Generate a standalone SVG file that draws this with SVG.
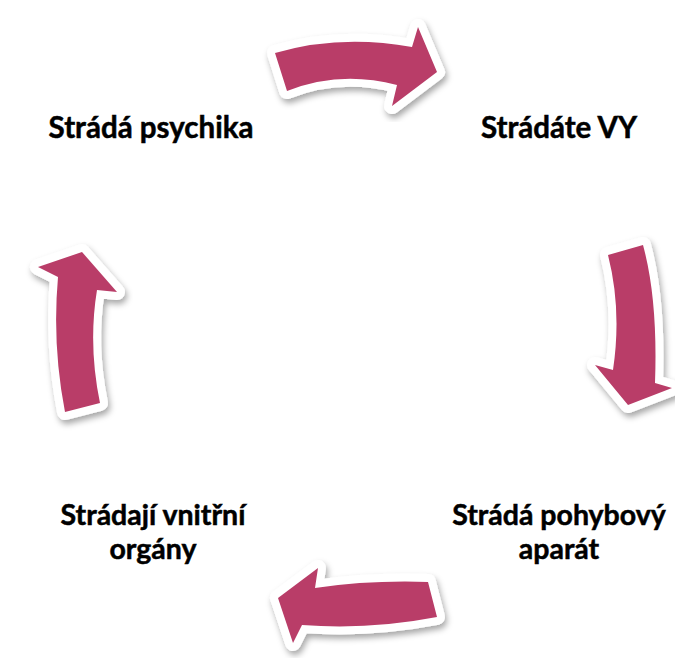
<svg xmlns="http://www.w3.org/2000/svg" width="675" height="663" viewBox="0 0 675 663">
<style>
.outline{fill:#fff;stroke:#fff;stroke-width:16;stroke-linejoin:round;filter:url(#sh)}
.arrow{fill:#B93D68}
.lbl{font-family:Lato,"Liberation Sans",sans-serif;font-weight:bold;font-size:29.5px;fill:#000;stroke:#000;stroke-width:0.5;text-anchor:middle}
.lbl2{font-size:28.5px}
</style>
<defs>
<filter id="sh" x="-20%" y="-20%" width="140%" height="140%">
<feDropShadow dx="2" dy="4" stdDeviation="3" flood-color="#000" flood-opacity="0.35"/>
</filter>
</defs>
<rect width="675" height="663" fill="#fff"/>
<g id="connectors">
<g id="arrow-top">
<path class="outline" d="M275,53 Q340,34 412,47 L418,27 L437,72 L392,106 L397,85 Q340,70 287,91 Z"/>
<path class="arrow" d="M275,53 Q340,34 412,47 L418,27 L437,72 L392,106 L397,85 Q340,70 287,91 Z"/>
</g>
<g id="arrow-right">
<path class="outline" d="M608,255 L643,245 Q658,300 655,383 L672,388 L628,405 L595,365 L613,370 Q622,310 608,255 Z"/>
<path class="arrow" d="M608,255 L643,245 Q658,300 655,383 L672,388 L628,405 L595,365 L613,370 Q622,310 608,255 Z"/>
</g>
<g id="arrow-bottom">
<path class="outline" d="M428,582 L437,617 Q370,630 302,625 L293,643 L278,598 L318,568 L315,588 Q370,580 428,582 Z"/>
<path class="arrow" d="M428,582 L437,617 Q370,630 302,625 L293,643 L278,598 L318,568 L315,588 Q370,580 428,582 Z"/>
</g>
<g id="arrow-left">
<path class="outline" d="M65,412 L100,403 Q88,345 97,290 L117,292 L82,252 L38,267 L58,277 Q52,345 65,412 Z"/>
<path class="arrow" d="M65,412 L100,403 Q88,345 97,290 L117,292 L82,252 L38,267 L58,277 Q52,345 65,412 Z"/>
</g>
</g>
<g id="node-psychika"><text class="lbl" x="151" y="138">Strádá psychika</text></g>
<g id="node-vy"><text class="lbl" x="559" y="138">Strádáte VY</text></g>
<g id="node-pohybovy"><text class="lbl lbl2" x="559" y="525">Strádá pohybový</text><text class="lbl lbl2" x="559" y="559">aparát</text></g>
<g id="node-organy"><text class="lbl lbl2" x="153" y="525">Strádají vnitřní</text><text class="lbl lbl2" x="153" y="559">orgány</text></g>
</svg>
